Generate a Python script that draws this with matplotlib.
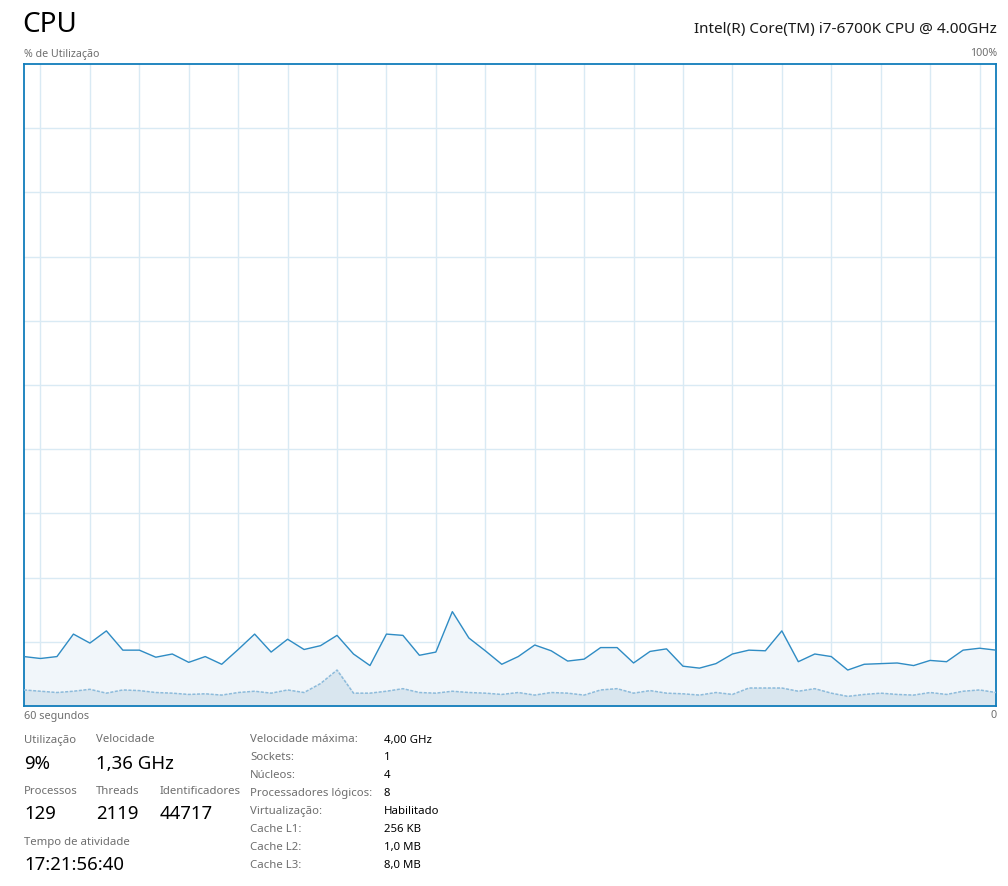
import matplotlib
matplotlib.use("Agg")
import matplotlib.pyplot as plt

plt.rcParams['font.family'] = ['Noto Sans', 'DejaVu Sans']

# % usage over the last 60 seconds (oldest -> newest)
cpu_total = [7.7, 7.4, 7.7, 11.2, 9.8, 11.7, 8.7, 8.7, 7.6, 8.1,
             6.8, 7.7, 6.5, 8.8, 11.2, 8.4, 10.4, 8.8, 9.4, 11.0,
             8.1, 6.3, 11.2, 11.0, 7.9, 8.4, 14.7, 10.6, 8.6, 6.5,
             7.7, 9.5, 8.6, 7.0, 7.3, 9.1, 9.1, 6.7, 8.5, 8.9,
             6.2, 5.9, 6.6, 8.1, 8.7, 8.6, 11.7, 6.9, 8.1, 7.7,
             5.6, 6.5, 6.6, 6.7, 6.3, 7.1, 6.9, 8.7, 9.0, 8.7]
cpu_kernel = [2.5, 2.3, 2.1, 2.3, 2.6, 2.0, 2.5, 2.4, 2.1, 2.0,
              1.8, 1.9, 1.7, 2.1, 2.3, 2.0, 2.5, 2.1, 3.5, 5.6,
              2.0, 2.0, 2.3, 2.7, 2.1, 2.0, 2.3, 2.1, 2.0, 1.8,
              2.1, 1.7, 2.1, 2.0, 1.7, 2.5, 2.7, 2.0, 2.4, 2.0,
              1.9, 1.7, 2.1, 1.8, 2.8, 2.8, 2.8, 2.3, 2.7, 2.0,
              1.5, 1.8, 2.0, 1.8, 1.7, 2.1, 1.8, 2.3, 2.5, 2.1]
seconds = list(range(len(cpu_total)))

stats_top = [("Utilização", "9%"), ("Velocidade", "1,36 GHz")]
stats_mid = [("Processos", "129"), ("Threads", "2119"), ("Identificadores", "44717")]
uptime = ("Tempo de atividade", "17:21:56:40")
info_labels = ["Velocidade máxima:", "Sockets:", "Núcleos:", "Processadores lógicos:",
               "Virtualização:", "Cache L1:", "Cache L2:", "Cache L3:"]
info_values = ["4,00 GHz", "1", "4", "8", "Habilitado", "256 KB", "1,0 MB", "8,0 MB"]

W, H = 1008, 886
blue = '#117dbb'
grid = '#d9eaf4'
gray = '#6e6e6e'

fig = plt.figure(figsize=(W / 100, H / 100), dpi=100)
ax = fig.add_axes([24 / W, 1 - 706 / H, 972 / W, 642 / H])

ax.fill_between(seconds, cpu_total, color='#f1f6fa', zorder=1)
ax.fill_between(seconds, cpu_kernel, color='#d9e6ef', zorder=2)
ax.plot(seconds, cpu_total, color='#2f8cc4', lw=1.0, zorder=4)
ax.plot(seconds, cpu_kernel, color='#8dbbdb', lw=1.1, ls=(0, (2, 1)), zorder=3)

for gx in range(1, 60, 3):
    ax.axvline(gx, color=grid, lw=1, zorder=0.5)
for gy in range(10, 100, 10):
    ax.axhline(gy, color=grid, lw=1, zorder=0.5)

ax.set_xlim(0, 59)
ax.set_ylim(0, 100)
ax.set_xticks([])
ax.set_yticks([])
for s in ax.spines.values():
    s.set_color(blue)
    s.set_linewidth(1.3)


def txt(x, y, s, size, color='black', ha='left'):
    fig.text(x / W, 1 - y / H, s, fontsize=size, color=color, ha=ha, va='center')


txt(22, 25, "CPU", 20)
txt(997, 30, "Intel(R) Core(TM) i7-6700K CPU @ 4.00GHz", 11, '#1a1a1a', 'right')
txt(24, 54, "% de Utilização", 7.7, gray)
txt(997, 54, "100%", 7.7, gray, 'right')
txt(24, 716, "60 segundos", 7.8, gray)
txt(997, 716, "0", 7.8, gray, 'right')

for (lab, val), x in zip(stats_top, [24, 96]):
    txt(x, 740, lab, 8.2, gray)
    txt(x, 764, val, 13.4)
for (lab, val), x in zip(stats_mid, [24, 96, 160]):
    txt(x, 791, lab, 8.2, gray)
    txt(x, 814, val, 13.4)
txt(24, 842, uptime[0], 8.2, gray)
txt(24, 865, uptime[1], 13.4)

for i, (lab, val) in enumerate(zip(info_labels, info_values)):
    y = 740 + i * 17.9
    txt(250, y, lab, 8.2, gray)
    txt(384, y, val, 8.2)

fig.savefig('out.png', dpi=100, facecolor='white')
